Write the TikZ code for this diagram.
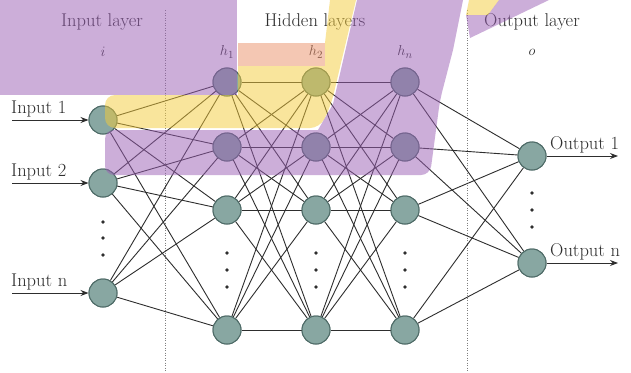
\documentclass[tikz,border=0pt]{standalone}
\usetikzlibrary{arrows.meta}
\definecolor{nodefill}{HTML}{88A7A2}
\definecolor{nodeborder}{HTML}{4E6B67}
\definecolor{linecol}{HTML}{2E2E2E}
\definecolor{textcol}{HTML}{2E2E2E}
\definecolor{dotcol}{HTML}{2E2E2E}
\definecolor{sepcol}{HTML}{808080}
\definecolor{bandpurple}{HTML}{9B5FB5}
\definecolor{bandyellow}{HTML}{F5CC3A}
\definecolor{bandpink}{HTML}{EB9068}
\begin{document}
\begin{tikzpicture}[x=1pt,y=-1pt,
  neuron/.style={circle,draw=nodeborder,fill=nodefill,line width=1pt,minimum size=28pt,inner sep=0pt},
  conn/.style={draw=linecol,line width=0.9pt},
  io/.style={-{Stealth[length=8pt,width=6pt]},draw=linecol,line width=1pt},
  lbl/.style={font=\fontsize{18.5}{20}\selectfont,text=textcol,inner sep=0pt},
  mlbl/.style={font=\fontsize{15}{16}\selectfont,text=textcol,inner sep=0pt},
  vdot/.style={circle,fill=dotcol,inner sep=0pt,minimum size=3.6pt},
  sepline/.style={draw=sepcol,line width=1pt,dash pattern=on 1pt off 1.5pt},
  band/.style={opacity=0.5}
]
\useasboundingbox (0,0) rectangle (631,372);
\fill[white] (0,0) rectangle (631,372);

% separators
\coordinate (s1t) at (165,10); \coordinate (s1b) at (165,372);
\coordinate (s2t) at (467,10); \coordinate (s2b) at (467,372);
\draw[sepline] (s1t) -- (s1b);
\draw[sepline] (s2t) -- (s2b);

% nodes
\node[neuron] (I1) at (103,120) {};
\node[neuron] (I2) at (103,183) {};
\node[neuron] (I3) at (103,293) {};
\foreach \l/\x in {A/227,B/316,C/405}{
  \node[neuron] (\l1) at (\x,82) {};
  \node[neuron] (\l2) at (\x,147) {};
  \node[neuron] (\l3) at (\x,210) {};
  \node[neuron] (\l4) at (\x,330) {};
}
\node[neuron] (O1) at (532,156) {};
\node[neuron] (O2) at (532,263) {};

% connections
\foreach \i in {1,2,3}{\foreach \j in {1,2,3,4}{\draw[conn] (I\i) -- (A\j);}}
\foreach \i in {1,2,3,4}{\foreach \j in {1,2,3,4}{
  \draw[conn] (A\i) -- (B\j);
  \draw[conn] (B\i) -- (C\j);}}
\foreach \i in {1,2,3,4}{\foreach \j in {1,2}{\draw[conn] (C\i) -- (O\j);}}

% redraw nodes on top of connections
\foreach \n in {I1,I2,I3,A1,A2,A3,A4,B1,B2,B3,B4,C1,C2,C3,C4,O1,O2}{
  \path (\n.center) node[neuron] {};
}

% vertical dots
\foreach \k/\y in {1/222,2/238,3/255}{\node[vdot] (di\k) at (103,\y) {};}
\foreach \l/\x in {A/227,B/316,C/405}{
  \foreach \k/\y in {1/253,2/270,3/287}{\node[vdot] (d\l\k) at (\x,\y) {};}}
\foreach \k/\y in {1/193,2/210,3/227}{\node[vdot] (do\k) at (532,\y) {};}

% input / output arrows
\coordinate (in1s) at (12,120);
\coordinate (in2s) at (12,183);
\coordinate (in3s) at (12,293);
\coordinate (out1e) at (618,156);
\coordinate (out2e) at (618,263);
\draw[io] (in1s) -- (I1);
\draw[io] (in2s) -- (I2);
\draw[io] (in3s) -- (I3);
\draw[io] (O1) -- (out1e);
\draw[io] (O2) -- (out2e);
\node[lbl,anchor=base west] (tin1) at (11,113) {Input 1};
\node[lbl,anchor=base west] (tin2) at (11,176) {Input 2};
\node[lbl,anchor=base west] (tin3) at (11,286) {Input n};
\node[lbl,anchor=base west] (tout1) at (550,149) {Output 1};
\node[lbl,anchor=base west] (tout2) at (550,256) {Output n};

% headers
\node[lbl,anchor=base] (hin) at (102,26) {Input layer};
\node[lbl,anchor=base] (hhid) at (315,26) {Hidden layers};
\node[lbl,anchor=base] (hout) at (532,26) {Output layer};
\node[mlbl] (li) at (103,52) {$i$};
\node[mlbl] (lh1) at (227,52) {$h_1$};
\node[mlbl] (lh2) at (316,52) {$h_2$};
\node[mlbl] (lhn) at (405,52) {$h_n$};
\node[mlbl] (lo) at (532,52) {$o$};

% coloured bands (overlay)
\fill[band,bandpurple] (0,0) rectangle (237,95);
\fill[band,bandpink] (238,43) rectangle (325,66);
\fill[band,bandyellow] (238,66) -- (325,66) -- (325,43) -- (330,0) -- (356,0)
   [rounded corners=10pt] -- (331,105) -- (320,128) -- (105,128) -- (105,95)
   [sharp corners] -- (238,95) -- cycle;
\fill[band,bandpurple] (105,175) [rounded corners=9pt] -- (105,130)
   [sharp corners] -- (318,130) -- (333,104) -- (357,0) -- (463,0) -- (453,50)
   [rounded corners=9pt] -- (440,100) -- (430,175) -- cycle;
\fill[band,bandyellow] (469,0) -- (499,0) -- (488,15) -- (466,15) -- cycle;
\fill[band,bandpurple] (499,0) -- (549,0) -- (470,38) -- (466,15) -- (488,15) -- cycle;
\end{tikzpicture}
\end{document}
